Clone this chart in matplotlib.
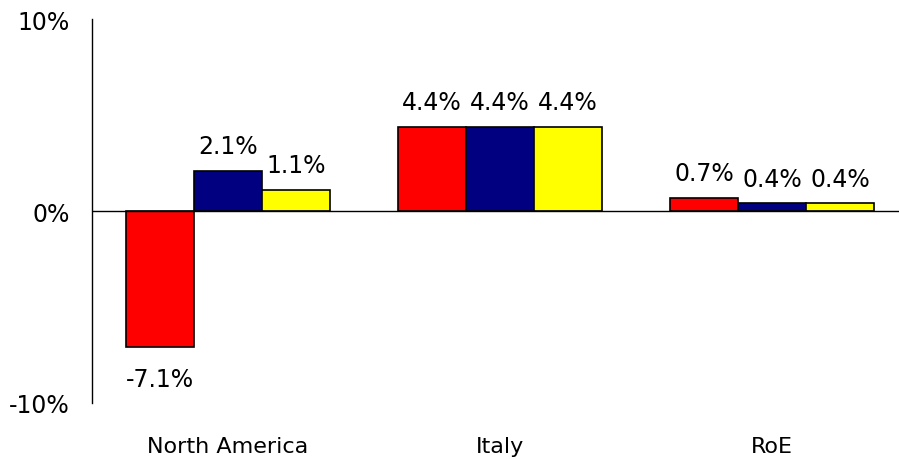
import numpy as np
import matplotlib.pyplot as plt

# regions and the three series (values in %)
regions = ["North America", "Italy", "RoE"]
series_a = [-7.1, 4.4, 0.7]
series_b = [2.1, 4.4, 0.4]
series_c = [1.1, 4.4, 0.4]
colors = ["#ff0000", "#000080", "#ffff00"]

fig = plt.figure(figsize=(8.99, 4.6), dpi=100)
ax = fig.add_axes([92 / 899, 56 / 460, 816 / 899, 384 / 460])

x = np.arange(len(regions))
width = 0.25
for k, (vals, col) in enumerate(zip([series_a, series_b, series_c], colors)):
    pos = x + (k - 1) * width
    ax.bar(pos, vals, width, color=col, edgecolor="black", linewidth=1.2, zorder=2)
    for p, v in zip(pos, vals):
        off = 9 if v >= 0 else -14
        ax.annotate(f"{v:.1f}%", (p, v), xytext=(0, off), textcoords="offset points",
                    ha="center", va="bottom" if v >= 0 else "top", fontsize=17)

ax.set_xlim(-0.5, 2.5)
ax.set_ylim(-10, 10)
ax.axhline(0, color="black", linewidth=1, zorder=3)

ax.set_yticks([-10, 0, 10])
ax.set_yticklabels(["-10%", "0%", "10%"], fontsize=17)
ax.set_xticks(x)
ax.set_xticklabels(regions, fontsize=16)
ax.tick_params(axis="y", length=0, pad=16)
ax.tick_params(axis="x", length=0, pad=24)

for s in ["top", "right", "bottom"]:
    ax.spines[s].set_visible(False)
ax.spines["left"].set_linewidth(1)

plt.savefig("out.png", dpi=100)
